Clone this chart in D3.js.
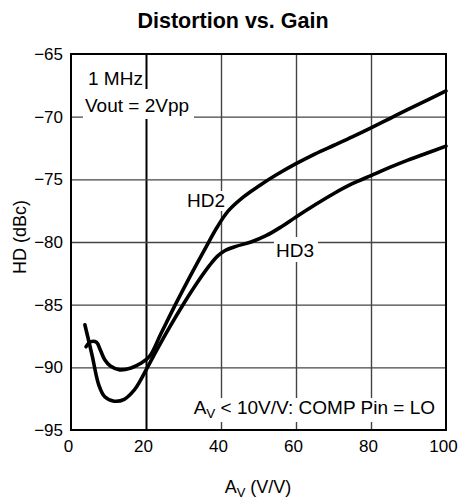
<!DOCTYPE html>
<html><head><meta charset="utf-8">
<script src="https://cdn.jsdelivr.net/npm/d3@7"></script>
<style>body{margin:0;background:#fff} svg{display:block;font-family:"Liberation Sans",Arial,Helvetica,sans-serif}</style>
</head><body><svg id="c" width="461" height="504"></svg>
<script>
const xTicks = [0, 20, 40, 60, 80, 100];
const yTicks = [-65, -70, -75, -80, -85, -90, -95];
const hd2Gain = [4.0, 5.3, 6.8, 7.8, 9.0, 10.5, 13, 16, 18.5, 21, 24, 28, 32, 36, 39, 42, 46, 50, 55, 60, 65, 70, 75, 80, 85, 90, 95, 100];
const hd2Val  = [-88.35, -87.95, -88.0, -88.6, -89.4, -89.9, -90.2, -90.05, -89.7, -89.1, -87.3, -84.9, -82.6, -80.4, -78.8, -77.5, -76.4, -75.55, -74.6, -73.75, -72.98, -72.3, -71.62, -70.9, -70.15, -69.4, -68.68, -67.95];
const hd3Gain = [3.7, 5.6, 7.4, 9.0, 11.5, 14.2, 16.9, 18.4, 22, 26, 30, 34, 37, 39, 41, 44, 48, 52, 56, 60, 65, 70, 75, 80, 85, 90, 95, 100];
const hd3Val  = [-86.6, -89.0, -91.4, -92.35, -92.7, -92.55, -91.8, -91.1, -89.1, -86.95, -84.95, -83.1, -81.85, -81.15, -80.7, -80.35, -80.0, -79.5, -78.8, -78.0, -77.05, -76.15, -75.35, -74.7, -74.05, -73.45, -72.9, -72.35];

const svg = d3.select("#c");
const m = {l: 71, t: 54, w: 375, h: 376};
const x = d3.scaleLinear().domain([0, 100]).range([m.l, m.l + m.w]);
const y = d3.scaleLinear().domain([-95, -65]).range([m.t + m.h, m.t]);

// grid
const gx = svg.append("g").attr("transform", `translate(0,${m.t + m.h})`)
  .call(d3.axisBottom(x).tickValues(xTicks.slice(1, -1)).tickSize(-m.h).tickFormat(""));
gx.select(".domain").remove();
gx.selectAll("line").attr("stroke", d => d === 20 ? "#000" : "#444").attr("stroke-width", d => d === 20 ? 2 : 1.4);
const gy = svg.append("g").attr("transform", `translate(${m.l},0)`)
  .call(d3.axisLeft(y).tickValues(yTicks.slice(1, -1)).tickSize(-m.w).tickFormat(""));
gy.select(".domain").remove();
gy.selectAll("line").attr("stroke", "#444").attr("stroke-width", 1.4);

// white masks behind labels
const masks = [[83, 89, 111, 30], [184, 191, 45, 20], [274, 237, 44, 25], [186, 398, 254, 24]];
svg.selectAll("rect.mask").data(masks).enter().append("rect").attr("class", "mask")
  .attr("x", d => d[0]).attr("y", d => d[1]).attr("width", d => d[2]).attr("height", d => d[3]).attr("fill", "#fff");

// border
svg.append("rect").attr("x", m.l).attr("y", m.t).attr("width", m.w).attr("height", m.h)
  .attr("fill", "none").attr("stroke", "#000").attr("stroke-width", 2);

// curves
const line = d3.line().x(d => x(d[0])).y(d => y(d[1])).curve(d3.curveCatmullRom.alpha(0.5));
[[hd2Gain, hd2Val], [hd3Gain, hd3Val]].forEach(([g, v]) => {
  svg.append("path").datum(g.map((gg, i) => [gg, v[i]])).attr("d", line)
    .attr("fill", "none").attr("stroke", "#000").attr("stroke-width", 3.6)
    .attr("stroke-linejoin", "round").attr("stroke-linecap", "round");
});

// tick labels
const ax = svg.append("g").attr("transform", `translate(-3,${m.t + m.h})`)
  .call(d3.axisBottom(x).tickValues(xTicks).tickSize(0).tickPadding(10));
ax.select(".domain").remove();
ax.selectAll("text").attr("font-size", 17).attr("font-family", "Liberation Sans, Arial, sans-serif").attr("fill", "#000");
const ay = svg.append("g").attr("transform", `translate(${m.l},0)`)
  .call(d3.axisLeft(y).tickValues(yTicks).tickSize(0).tickPadding(8));
ay.select(".domain").remove();
ay.selectAll("text").attr("font-size", 17).attr("font-family", "Liberation Sans, Arial, sans-serif").attr("fill", "#000");

// title
svg.append("text").attr("x", 233).attr("y", 28).attr("text-anchor", "middle")
  .attr("font-size", 21.5).attr("font-weight", "bold").text("Distortion vs. Gain");

// axis titles
const xt = svg.append("text").attr("x", 258).attr("y", 493).attr("text-anchor", "middle").attr("font-size", 18);
xt.append("tspan").text("A");
xt.append("tspan").attr("font-size", 13).attr("dy", 4).text("V");
xt.append("tspan").attr("dy", -4).text(" (V/V)");
svg.append("text").attr("transform", "translate(26,237) rotate(-90)").attr("text-anchor", "middle")
  .attr("font-size", 18).text("HD (dBc)");

// annotations
svg.append("text").attr("x", 88).attr("y", 85).attr("font-size", 19).text("1 MHz");
svg.append("text").attr("x", 85).attr("y", 112).attr("font-size", 19).text("Vout = 2Vpp");
svg.append("text").attr("x", 187).attr("y", 207).attr("font-size", 19).text("HD2");
svg.append("text").attr("x", 276).attr("y", 257).attr("font-size", 19).text("HD3");
const bt = svg.append("text").attr("x", 435).attr("y", 414).attr("text-anchor", "end").attr("font-size", 19);
bt.append("tspan").text("A");
bt.append("tspan").attr("font-size", 13.5).attr("dy", 4).text("V");
bt.append("tspan").attr("dy", -4).text(" < 10V/V: COMP Pin = LO");
</script></body></html>
